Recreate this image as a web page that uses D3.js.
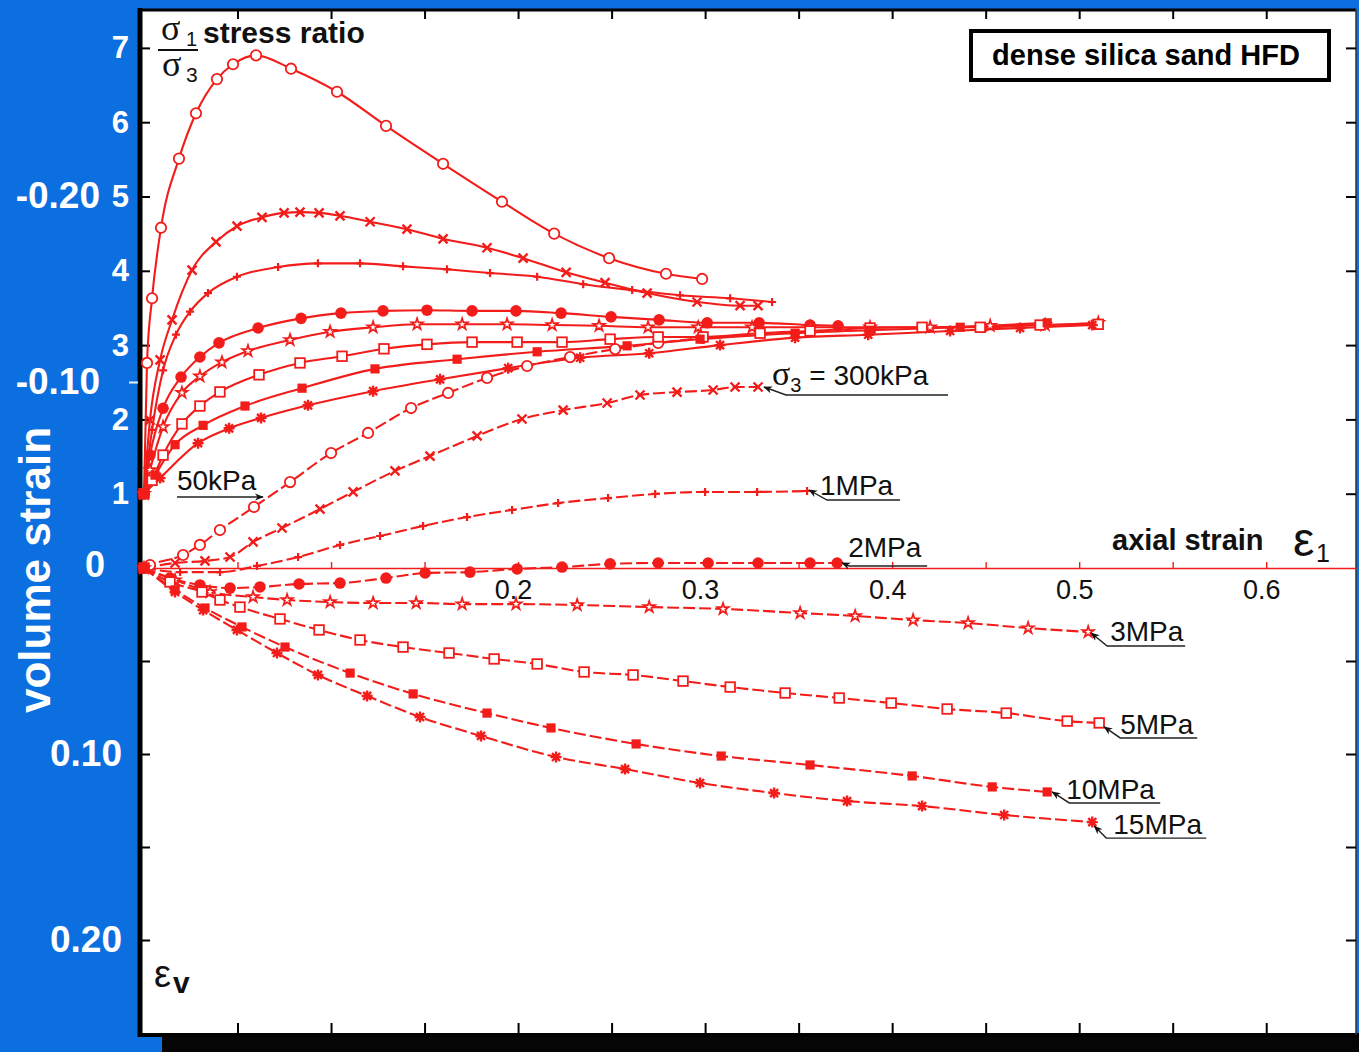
<!DOCTYPE html>
<html>
<head>
<meta charset="utf-8">
<script src="https://cdn.jsdelivr.net/npm/d3@7"></script>
<style>
  body { margin: 0; background: #0b6fe0; }
  svg { display: block; }
  text { font-family: "Liberation Sans", Arial, Helvetica, sans-serif; }
</style>
</head>
<body>
<svg id="chart" width="1359" height="1052"></svg>
<script>
// Triaxial tests on dense silica sand: stress ratio σ1/σ3 and volume strain εv
// against axial strain ε1, one test per confining pressure σ3.
const pressures = ["50kPa", "300kPa", "1MPa", "2MPa", "3MPa", "5MPa", "10MPa", "15MPa"];
const markerTypes = ["circleOpen", "cross", "plus", "circleFilled", "starOpen", "squareOpen", "squareFilled", "asterisk"];

// [ε1, σ1/σ3]
const ratio50k = [[0,1.00],[0.0016,2.76],[0.0043,3.63],[0.0091,4.58],[0.0187,5.51],[0.0278,6.12],[0.0390,6.58],[0.0476,6.78],[0.0599,6.90],[0.0786,6.72],[0.1032,6.41],[0.1294,5.95],[0.1599,5.44],[0.1914,4.93],[0.2193,4.50],[0.2487,4.17],[0.2791,3.96],[0.2984,3.89]];
const ratio300k = [[0,1.00],[0.0032,1.99],[0.0086,2.80],[0.0150,3.34],[0.0257,4.01],[0.0385,4.39],[0.0497,4.60],[0.0631,4.72],[0.0749,4.78],[0.0834,4.79],[0.0936,4.78],[0.1048,4.74],[0.1209,4.66],[0.1406,4.56],[0.1599,4.43],[0.1834,4.31],[0.2027,4.17],[0.2257,3.98],[0.2465,3.84],[0.2690,3.70],[0.2957,3.58],[0.3187,3.53],[0.3283,3.53]];
const ratio1M = [[0,1.00],[0.0043,1.86],[0.0102,2.66],[0.0171,3.14],[0.0246,3.45],[0.0342,3.70],[0.0497,3.92],[0.0717,4.05],[0.0930,4.10],[0.1155,4.10],[0.1385,4.06],[0.1620,4.02],[0.1850,3.97],[0.2102,3.92],[0.2348,3.82],[0.2610,3.74],[0.2866,3.67],[0.3134,3.63],[0.3358,3.58]];
const ratio2M = [[0,1.00],[0.0032,1.52],[0.0102,2.15],[0.0198,2.57],[0.0299,2.84],[0.0401,3.03],[0.0610,3.23],[0.0840,3.36],[0.1053,3.43],[0.1278,3.46],[0.1513,3.47],[0.1754,3.46],[0.1989,3.46],[0.2230,3.43],[0.2497,3.38],[0.2754,3.34],[0.3011,3.30],[0.3289,3.30],[0.3561,3.27],[0.3711,3.26]];
const ratio3M = [[0,1.00],[0.0032,1.32],[0.0102,1.90],[0.0203,2.36],[0.0299,2.58],[0.0417,2.77],[0.0556,2.92],[0.0781,3.07],[0.0995,3.18],[0.1225,3.24],[0.1460,3.28],[0.1701,3.28],[0.1941,3.28],[0.2182,3.27],[0.2433,3.26],[0.2695,3.24],[0.2963,3.24],[0.3251,3.24],[0.3561,3.24],[0.3882,3.24],[0.4203,3.24],[0.4524,3.26],[0.4818,3.27],[0.5102,3.30]];
const ratio5M = [[0,1.00],[0.0043,1.18],[0.0102,1.52],[0.0203,1.94],[0.0299,2.18],[0.0406,2.37],[0.0615,2.60],[0.0834,2.76],[0.1059,2.85],[0.1283,2.95],[0.1513,3.01],[0.1754,3.04],[0.1995,3.04],[0.2235,3.04],[0.2492,3.08],[0.2749,3.11],[0.2989,3.11],[0.3294,3.16],[0.3561,3.19],[0.3882,3.23],[0.4160,3.24],[0.4471,3.24],[0.4791,3.27],[0.5102,3.28]];
const ratio10M = [[0,1.00],[0.0059,1.25],[0.0166,1.66],[0.0316,1.92],[0.0540,2.18],[0.0845,2.42],[0.1235,2.68],[0.1674,2.81],[0.2102,2.91],[0.2583,2.99],[0.2973,3.08],[0.3481,3.16],[0.3882,3.20],[0.4364,3.24],[0.4829,3.30]];
const ratio15M = [[0,1.00],[0.0086,1.21],[0.0289,1.68],[0.0455,1.88],[0.0626,2.02],[0.0877,2.19],[0.1225,2.38],[0.1583,2.54],[0.1947,2.69],[0.2332,2.83],[0.2701,2.89],[0.3080,3.00],[0.3481,3.10],[0.3872,3.14],[0.4310,3.19],[0.4684,3.23],[0.5070,3.27]];

// [ε1, εv]  (negative = dilation)
const vol50k = [[0,0],[0.0032,-0.0016],[0.0209,-0.0070],[0.0299,-0.0124],[0.0406,-0.0204],[0.0588,-0.0328],[0.0781,-0.0462],[0.1000,-0.0618],[0.1198,-0.0726],[0.1428,-0.0860],[0.1626,-0.0941],[0.1834,-0.1022],[0.2048,-0.1086],[0.2278,-0.1134],[0.2519,-0.1177],[0.2749,-0.1210],[0.2984,-0.1237]];
const vol300k = [[0,0],[0.0166,-0.0027],[0.0326,-0.0038],[0.0460,-0.0059],[0.0583,-0.0140],[0.0738,-0.0215],[0.0941,-0.0317],[0.1118,-0.0409],[0.1342,-0.0522],[0.1529,-0.0602],[0.1781,-0.0710],[0.2021,-0.0801],[0.2241,-0.0849],[0.2476,-0.0887],[0.2652,-0.0930],[0.2850,-0.0946],[0.3043,-0.0957],[0.3160,-0.0973],[0.3283,-0.0973]];
const vol1M = [[0,0],[0.0193,0.0022],[0.0406,0.0022],[0.0604,-0.0011],[0.0824,-0.0059],[0.1048,-0.0124],[0.1262,-0.0172],[0.1492,-0.0226],[0.1727,-0.0274],[0.1968,-0.0312],[0.2214,-0.0349],[0.2481,-0.0376],[0.2733,-0.0398],[0.3000,-0.0409],[0.3278,-0.0409],[0.3545,-0.0414]];
const vol2M = [[0,0],[0.0139,0.0054],[0.0299,0.0091],[0.0460,0.0108],[0.0620,0.0102],[0.0829,0.0086],[0.1048,0.0081],[0.1294,0.0054],[0.1503,0.0027],[0.1743,0.0022],[0.1995,0.0005],[0.2235,-0.0005],[0.2492,-0.0022],[0.2749,-0.0027],[0.3016,-0.0027],[0.3283,-0.0027],[0.3561,-0.0027],[0.3706,-0.0027]];
const vol3M = [[0,0],[0.0166,0.0065],[0.0353,0.0129],[0.0583,0.0156],[0.0765,0.0172],[0.0995,0.0183],[0.1225,0.0188],[0.1455,0.0188],[0.1701,0.0194],[0.1989,0.0194],[0.2316,0.0199],[0.2701,0.0210],[0.3096,0.0220],[0.3508,0.0242],[0.3802,0.0258],[0.4112,0.0280],[0.4406,0.0296],[0.4727,0.0323],[0.5048,0.0344]];
const vol5M = [[0,0],[0.0139,0.0075],[0.0310,0.0129],[0.0406,0.0172],[0.0513,0.0210],[0.0727,0.0274],[0.0936,0.0333],[0.1155,0.0387],[0.1385,0.0425],[0.1631,0.0457],[0.1872,0.0489],[0.2102,0.0516],[0.2353,0.0559],[0.2615,0.0575],[0.2882,0.0608],[0.3134,0.0640],[0.3428,0.0672],[0.3717,0.0699],[0.3995,0.0726],[0.4294,0.0758],[0.4610,0.0780],[0.4936,0.0823],[0.5107,0.0833]];
const vol10M = [[0,0],[0.0166,0.0118],[0.0326,0.0215],[0.0524,0.0317],[0.0754,0.0425],[0.1102,0.0565],[0.1439,0.0677],[0.1834,0.0780],[0.2176,0.0860],[0.2631,0.0946],[0.3086,0.1011],[0.3561,0.1059],[0.4107,0.1118],[0.4535,0.1177],[0.4829,0.1204]];
const vol15M = [[0,0],[0.0166,0.0129],[0.0316,0.0226],[0.0497,0.0333],[0.0711,0.0457],[0.0930,0.0575],[0.1193,0.0688],[0.1476,0.0801],[0.1802,0.0903],[0.2203,0.1016],[0.2572,0.1081],[0.2973,0.1156],[0.3369,0.1210],[0.3759,0.1253],[0.4160,0.1280],[0.4599,0.1328],[0.5070,0.1366]];

const ratioSeries = [ratio50k, ratio300k, ratio1M, ratio2M, ratio3M, ratio5M, ratio10M, ratio15M];
const volSeries = [vol50k, vol300k, vol1M, vol2M, vol3M, vol5M, vol10M, vol15M];

// axis ticks
const ratioTicks = [1, 2, 3, 4, 5, 6, 7];
const volTickLabelsUp = [-0.20, -0.10];
const volTickLabelsDown = [0.10, 0.20];
const volMinorTicks = [0.05, 0.10, 0.15, 0.20];
const strainTicks = [0.05, 0.10, 0.15, 0.20, 0.25, 0.30, 0.35, 0.40, 0.45, 0.50, 0.55, 0.60];
const strainLabels = [0.2, 0.3, 0.4, 0.5, 0.6];

const RED = "#f21d1a";
const svg = d3.select("#chart");
const W = 1359, H = 1052;

// frame geometry
const frame = { left: 140, right: 1356, top: 9, bottom: 1035 };

const x = d3.scaleLinear().domain([0, 0.648]).range([144, 1356]);
const yR = d3.scaleLinear().domain([0, 7]).range([568, 568 - 7 * 74.3]);
const yV = d3.scaleLinear().domain([-0.2, 0.2]).range([196, 940]);

// background, drop shadow and plotting panel
svg.append("rect").attr("width", W).attr("height", H).attr("fill", "#0b6fe0");
svg.append("rect").attr("x", 162).attr("y", frame.bottom).attr("width", W - 162).attr("height", H - frame.bottom).attr("fill", "#050505");
svg.append("rect").attr("x", frame.left).attr("y", frame.top).attr("width", frame.right - frame.left).attr("height", frame.bottom - frame.top).attr("fill", "#ffffff");
svg.append("line").attr("x1", frame.left).attr("x2", frame.left).attr("y1", frame.top - 1).attr("y2", frame.bottom + 2).attr("stroke", "#000").attr("stroke-width", 5);
svg.append("line").attr("x1", frame.left - 2).attr("x2", frame.right).attr("y1", frame.top + 1).attr("y2", frame.top + 1).attr("stroke", "#000").attr("stroke-width", 3);
svg.append("line").attr("x1", frame.left - 2).attr("x2", W).attr("y1", frame.bottom).attr("y2", frame.bottom).attr("stroke", "#000").attr("stroke-width", 4);
svg.append("line").attr("x1", frame.right).attr("x2", frame.right).attr("y1", frame.top).attr("y2", frame.bottom).attr("stroke", "#333").attr("stroke-width", 1.5);

function styleTicks(g, color, width) {
  g.select(".domain").remove();
  g.selectAll(".tick line").attr("stroke", color).attr("stroke-width", width);
  g.selectAll(".tick text").remove();
}

// inner ticks on the four sides
svg.append("g").attr("transform", `translate(${frame.left + 2},0)`)
  .call(d3.axisRight(yR).tickValues(ratioTicks).tickSize(8)).call(g => styleTicks(g, "#000", 2));
svg.append("g").attr("transform", `translate(${frame.left + 2},0)`)
  .call(d3.axisRight(yV).tickValues(volMinorTicks).tickSize(8)).call(g => styleTicks(g, "#000", 2));
svg.append("g").attr("transform", `translate(${frame.right},0)`)
  .call(d3.axisLeft(yR).tickValues(ratioTicks).tickSize(10)).call(g => styleTicks(g, "#000", 2));
svg.append("g").attr("transform", `translate(${frame.right},0)`)
  .call(d3.axisLeft(yV).tickValues(volMinorTicks).tickSize(10)).call(g => styleTicks(g, "#000", 2));
svg.append("g").attr("transform", `translate(0,${frame.top + 2})`)
  .call(d3.axisBottom(x).tickValues(strainTicks).tickSize(8)).call(g => styleTicks(g, "#000", 2));
svg.append("g").attr("transform", `translate(0,${frame.bottom - 2})`)
  .call(d3.axisTop(x).tickValues(strainTicks).tickSize(10)).call(g => styleTicks(g, "#000", 2));
// small outer mark at εv = -0.10
svg.append("g").attr("transform", `translate(${frame.left - 2},0)`)
  .call(d3.axisLeft(yV).tickValues([-0.1]).tickSize(9)).call(g => styleTicks(g, "#e8eef8", 2));

// left labels (white, on the blue margin)
const leftR = svg.append("g").attr("transform", "translate(129,0)")
  .call(d3.axisLeft(yR).tickValues(ratioTicks).tickSize(0).tickPadding(0).tickFormat(d3.format("d")));
leftR.select(".domain").remove();
leftR.selectAll("text").attr("fill", "#fff").attr("font-size", 31).attr("font-weight", "bold")
  .attr("font-family", '"Liberation Sans", Arial, sans-serif');

const leftVup = svg.append("g").attr("transform", "translate(100,0)")
  .call(d3.axisLeft(yV).tickValues(volTickLabelsUp).tickSize(0).tickPadding(0).tickFormat(d3.format(".2f")));
leftVup.select(".domain").remove();
leftVup.selectAll("text").text(d => d3.format(".2f")(d).replace("−", "-")).attr("fill", "#fff").attr("font-size", 37).attr("font-weight", "bold")
  .attr("font-family", '"Liberation Sans", Arial, sans-serif');

const leftVdown = svg.append("g").attr("transform", "translate(122,0)")
  .call(d3.axisLeft(yV).tickValues(volTickLabelsDown).tickSize(0).tickPadding(0).tickFormat(d3.format(".2f")));
leftVdown.select(".domain").remove();
leftVdown.selectAll("text").attr("fill", "#fff").attr("font-size", 37).attr("font-weight", "bold")
  .attr("font-family", '"Liberation Sans", Arial, sans-serif');

svg.append("text").attr("x", 95).attr("y", yV(0) + 9).attr("text-anchor", "middle")
  .attr("fill", "#fff").attr("font-size", 36).attr("font-weight", "bold").text("0");

svg.append("text").attr("transform", `translate(50,570) rotate(-90)`).attr("text-anchor", "middle")
  .attr("fill", "#fff").attr("font-size", 44).attr("font-weight", "bold").text("volume strain");

// zero axis of the strain plot with its red ticks
const zeroAxis = svg.append("g").attr("transform", `translate(0,${yV(0)})`)
  .call(d3.axisTop(x).tickValues(strainTicks).tickSize(6).tickSizeOuter(0));
zeroAxis.select(".domain").attr("stroke", RED).attr("stroke-width", 1.6);
zeroAxis.selectAll(".tick line").attr("stroke", RED).attr("stroke-width", 1.4);
zeroAxis.selectAll(".tick text").remove();

const strainLab = svg.append("g").attr("transform", `translate(-5,${yV(0)})`)
  .call(d3.axisBottom(x).tickValues(strainLabels).tickSize(0).tickPadding(12).tickFormat(d3.format(".1f")));
strainLab.select(".domain").remove();
strainLab.selectAll("text").attr("fill", "#111").attr("font-size", 27)
  .attr("font-family", '"Liberation Sans", Arial, sans-serif');

// curves
const ratioLine = d3.line().x(d => x(d[0])).y(d => yR(d[1])).curve(d3.curveMonotoneX);
const volLine = d3.line().x(d => x(d[0])).y(d => yV(d[1])).curve(d3.curveMonotoneX);

const curves = svg.append("g");
volSeries.forEach(s => {
  curves.append("path").attr("d", volLine(s)).attr("fill", "none").attr("stroke", RED)
    .attr("stroke-width", 2.1).attr("stroke-dasharray", "12,4");
});
ratioSeries.forEach(s => {
  curves.append("path").attr("d", ratioLine(s)).attr("fill", "none").attr("stroke", RED).attr("stroke-width", 2.1);
});

function drawMarker(g, type, px, py) {
  const m = g.append("g").attr("transform", `translate(${px},${py})`);
  switch (type) {
    case "circleOpen":
      m.append("circle").attr("r", 5.2).attr("fill", "#fff").attr("stroke", RED).attr("stroke-width", 1.8); break;
    case "circleFilled":
      m.append("circle").attr("r", 5.8).attr("fill", RED); break;
    case "cross":
      m.append("path").attr("d", "M-4.5,-4.5L4.5,4.5M-4.5,4.5L4.5,-4.5").attr("stroke", RED).attr("stroke-width", 2.4); break;
    case "plus":
      m.append("path").attr("d", "M-4,0L4,0M0,-4L0,4").attr("stroke", RED).attr("stroke-width", 2.2); break;
    case "starOpen":
      m.append("path").attr("d", d3.symbol(d3.symbolStar, 40)()).attr("fill", "#fff").attr("stroke", RED).attr("stroke-width", 1.7); break;
    case "squareOpen":
      m.append("rect").attr("x", -4.8).attr("y", -4.8).attr("width", 9.6).attr("height", 9.6).attr("fill", "#fff").attr("stroke", RED).attr("stroke-width", 1.8); break;
    case "squareFilled":
      m.append("rect").attr("x", -4.6).attr("y", -4.6).attr("width", 9.2).attr("height", 9.2).attr("fill", RED); break;
    case "asterisk":
      m.append("path").attr("d", "M-5.5,0L5.5,0M0,-5.5L0,5.5M-4,-4L4,4M-4,4L4,-4").attr("stroke", RED).attr("stroke-width", 2.4); break;
  }
}

const marks = svg.append("g");
volSeries.forEach((s, i) => s.forEach(d => drawMarker(marks, markerTypes[i], x(d[0]), yV(d[1]))));
ratioSeries.forEach((s, i) => s.forEach(d => drawMarker(marks, markerTypes[i], x(d[0]), yR(d[1]))));

// pressure labels with leader arrows, anchored at the last volume point of each test
svg.append("defs").append("marker").attr("id", "arrow").attr("viewBox", "0 0 10 10")
  .attr("refX", 9).attr("refY", 5).attr("markerWidth", 9).attr("markerHeight", 9)
  .attr("markerUnits", "userSpaceOnUse").attr("orient", "auto")
  .append("path").attr("d", "M0,1L10,5L0,9L3,5Z").attr("fill", "#111");

// [tip dx, tip dy, elbow dx, elbow dy, underline end dx, text dx, text dy]
const leaderLayout = [
  null,
  [6, 0, 28, 8, 190, 14, -2],
  [2, -1, 20, 9, 93, 13, 4],
  [5, 0, 12, 3, 90, 11, -6],
  [3, 1, 19, 14, 97, 22, 9],
  [5, 4, 21, 15, 98, 21, 11],
  [5, 0, 22, 11, 113, 19, 7],
  [2, 4, 14, 16, 114, 21, 12]
];
const ann = svg.append("g");
volSeries.forEach((s, i) => {
  const L = leaderLayout[i];
  if (!L) return;
  const e = s[s.length - 1];
  const ex = x(e[0]), ey = yV(e[1]);
  ann.append("path")
    .attr("d", `M${ex + L[4]},${ey + L[3]}L${ex + L[2]},${ey + L[3]}L${ex + L[0]},${ey + L[1]}`)
    .attr("fill", "none").attr("stroke", "#222").attr("stroke-width", 1.4).attr("marker-end", "url(#arrow)");
  const t = ann.append("text").attr("x", ex + L[5]).attr("y", ey + L[6]).attr("font-size", 28).attr("fill", "#111");
  if (i === 1) {
    t.append("tspan").attr("font-family", '"Liberation Serif", serif').attr("font-size", 34).text("σ");
    t.append("tspan").attr("font-size", 20).attr("dy", 7).text("3");
    t.append("tspan").attr("dy", -7).text(" = " + pressures[i]);
  } else {
    t.text(pressures[i]);
  }
});
// 50 kPa: horizontal arrow under the label pointing at the dilation curve
{
  const p = vol50k[5];
  const px = x(p[0]), py = yV(p[1]);
  ann.append("path").attr("d", `M${px - 77},${py - 10}L${px + 9},${py - 10}`)
    .attr("stroke", "#222").attr("stroke-width", 1.4).attr("marker-end", "url(#arrow)");
  ann.append("text").attr("x", px - 77).attr("y", py - 17).attr("font-size", 28).attr("fill", "#111").text(pressures[0]);
}

// axis titles inside the panel
const tl = svg.append("g");
// σ1 / σ3 written as one stacked fraction
const frac = tl.append("text").attr("fill", "#111");
frac.append("tspan").attr("x", 161).attr("y", 40).attr("font-family", '"Liberation Serif", serif').attr("font-size", 36).text("σ");
frac.append("tspan").attr("x", 186).attr("y", 46).attr("font-size", 20).text("1");
frac.append("tspan").attr("x", 162).attr("y", 76).attr("font-family", '"Liberation Serif", serif').attr("font-size", 36).text("σ");
frac.append("tspan").attr("x", 186).attr("y", 82).attr("font-size", 21).text("3");
tl.append("line").attr("x1", 158).attr("x2", 198).attr("y1", 50).attr("y2", 50).attr("stroke", "#111").attr("stroke-width", 2);
tl.append("text").attr("x", 203).attr("y", 43).attr("font-size", 30).attr("font-weight", "bold").attr("fill", "#111").text("stress ratio");

tl.append("text").attr("x", 154).attr("y", 987).attr("font-family", '"Liberation Serif", serif').attr("font-size", 38).attr("fill", "#111").text("ε");
tl.append("text").attr("x", 173).attr("y", 993).attr("font-size", 30).attr("font-weight", "bold").attr("fill", "#111").text("v");

tl.append("text").attr("x", 1112).attr("y", 550).attr("font-size", 29).attr("font-weight", "bold").attr("fill", "#111").text("axial strain");
tl.append("text").attr("x", 1293).attr("y", 556).attr("font-family", '"Liberation Serif", serif').attr("font-size", 48).attr("fill", "#111").text("ε");
tl.append("text").attr("x", 1316).attr("y", 562).attr("font-size", 25).attr("fill", "#111").text("1");

tl.append("rect").attr("x", 971).attr("y", 31).attr("width", 358).attr("height", 49)
  .attr("fill", "#fff").attr("stroke", "#000").attr("stroke-width", 4);
tl.append("text").attr("x", 1146).attr("y", 65).attr("text-anchor", "middle").attr("font-size", 29)
  .attr("font-weight", "bold").attr("fill", "#000").text("dense silica sand HFD");
</script>
</body>
</html>
